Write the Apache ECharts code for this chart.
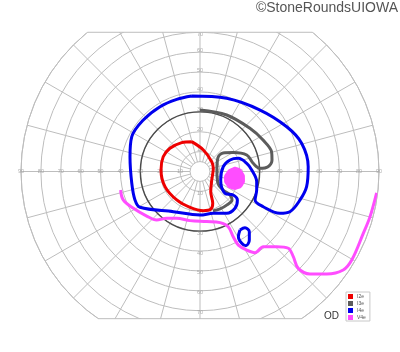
<!DOCTYPE html>
<html><head><meta charset="utf-8">
<script src="https://cdn.jsdelivr.net/npm/echarts@6/dist/echarts.min.js"></script>
<style>html,body{margin:0;padding:0;background:#fff}#c{width:400px;height:352px}</style>
</head><body><div id="c"></div>
<script>
// Isopter points in degrees of visual field: [horizontal, vertical] (right / up positive)
const I2e = [[-4.2,15.0],[1.7,10.8],[5.9,4.9],[6.7,1.6],[5.9,-4.3],[5.4,-10.2],[6.4,-16.0],[5.4,-19.0],[1.7,-19.7],[-5.0,-18.0],[-11.7,-14.3],[-17.6,-7.6],[-19.6,0.8],[-18.5,7.4],[-15.1,11.7],[-9.2,14.5],[-4.2,15.0]];
const I3e = [[0,30.9],[13.4,28.4],[25.1,21.7],[31.7,15.8],[36.0,9.8],[36.2,5.8],[34.2,2.4],[30.2,1.6],[26.6,4.3],[23.5,8.3],[16.6,9.5],[11.6,9.3],[9.0,6.8],[8.5,0.8],[9.0,-5.8],[11.6,-9.3],[15.1,-11.8],[16.1,-14.3],[13.6,-16.8],[10.1,-18.8],[6.5,-19.8]];
const I4e = [[-4.2,38.0],[13.4,36.8],[30.2,30.9],[43.6,22.5],[51.1,14.2],[54.4,2.4],[53.6,-7.6],[50.3,-14.3],[45.2,-20.2],[40.2,-21.0],[31.8,-17.7],[27.7,-14.3],[28.5,-9.3],[28.5,-5.1],[26.0,0.8],[23.5,4.1],[19.3,6.6],[15.1,5.8],[11.7,2.4],[10.4,-4.3],[12.6,-11.0],[16.7,-11.8],[18.8,-14.3],[17.6,-18.5],[13.4,-21.0],[6.7,-21.0],[0,-21.9],[-13.4,-20.2],[-30.2,-18.0],[-32.7,-14.3],[-34.3,-5.9],[-35.2,7.4],[-34.3,17.5],[-28.5,25.9],[-20.1,32.6],[-11.7,36.3],[-4.2,38.0]];
const I4eIsland = [[20.1,-29.4],[22.6,-28.3],[24.8,-30.3],[24.8,-34.4],[23.1,-37.3],[21.0,-36.1],[19.3,-32.8],[20.1,-29.4]];
const V4e = [[-39.9,-9.3],[-38.6,-14.3],[-33.5,-18.5],[-26.8,-22.4],[-21.8,-24.4],[-16.7,-23.5],[-11.7,-23.5],[-5.0,-24.7],[3.4,-25.2],[10.1,-25.7],[14.2,-27.8],[16.7,-32.8],[19.3,-37.0],[23.5,-39.5],[27.7,-40.8],[31.8,-37.8],[38.6,-37.8],[44.4,-38.6],[46.9,-42.8],[49.4,-48.7],[55.3,-51.5],[63.7,-51.5],[72.0,-49.5],[76.3,-44.5],[82.1,-31.1],[85.5,-22.7],[88.8,-10.7]];
const V4eSpot = [[13.1,-0.6],[15.9,1.8],[19.1,2.0],[21.6,-0.3],[22.6,-3.8],[21.6,-7.0],[19.1,-8.8],[15.6,-8.8],[13.1,-6.8],[12.1,-3.8]];

const seriesNames = ['I2e','I3e','I4e','V4e'];
const seriesColors = ['#ee0000','#5c5c5c','#0000ee','#ff4dff'];
const hTicks = [10,20,30,40,50,60,70,80,90];
const vTicks = [10,20,30,40,50,60,70];
const emphRing = 30, centerRing = 5, maxEcc = 90, topClip = 70, bottomClip = 74;

// layout
const CX = 200, CY = 171.5, R = 179;
const GRID = '#bdbdbd';

function toPolar(p){
  const r = Math.hypot(p[0], p[1]);
  let a = Math.atan2(p[1], p[0]) * 180 / Math.PI;
  if (a < 0) a += 360;
  return [r, a];
}
const pol = arr => arr.map(toPolar);

const labelData = [];
hTicks.forEach(t => { labelData.push({value:[t,0], name:String(t)}); labelData.push({value:[t,180], name:String(t)}); });
vTicks.forEach(t => {
  labelData.push({value:[t,90], name:String(t), label:{offset:[0, t===70 ? 2 : -2]}});
  labelData.push({value:[t,270], name:String(t), label:{offset:[0,2]}});
});

const chart = echarts.init(document.getElementById('c'), null, {renderer:'canvas'});
const pxTop = CY - R * topClip / maxEcc;
const pxBot = CY + R * bottomClip / maxEcc;
const halfTop = Math.sqrt(R*R - (CY-pxTop)*(CY-pxTop));
const halfBot = Math.sqrt(R*R - (pxBot-CY)*(pxBot-CY));

function lineSeries(i, data){
  return {type:'line', name:seriesNames[i], coordinateSystem:'polar', polarIndex:0,
    data: pol(data), showSymbol:false, smooth:0.35, z:4, silent:true,
    color: seriesColors[i], itemStyle:{color:seriesColors[i]},
    lineStyle:{color:seriesColors[i], width:3}};
}

const spotPolar = pol(V4eSpot);

chart.setOption({
  animation:false,
  polar:[{center:[CX,CY], radius:R}, {center:[CX,CY], radius:R*emphRing/maxEcc}],
  angleAxis:[
    {polarIndex:0, type:'value', min:0, max:360, interval:15, startAngle:0, clockwise:false,
     axisLine:{show:true, lineStyle:{color:GRID, width:1}}, axisTick:{show:false}, axisLabel:{show:false},
     splitLine:{show:true, lineStyle:{color:GRID, width:1}}},
    {polarIndex:1, type:'value', min:0, max:360, startAngle:0, clockwise:false,
     axisLine:{show:true, lineStyle:{color:'#4a4a4a', width:1.4}}, axisTick:{show:false}, axisLabel:{show:false},
     splitLine:{show:false}}
  ],
  radiusAxis:[
    {polarIndex:0, type:'value', min:0, max:maxEcc, interval:10,
     axisLine:{show:false}, axisTick:{show:false}, axisLabel:{show:false},
     splitLine:{show:true, lineStyle:{color:GRID, width:1}}},
    {polarIndex:1, type:'value', min:0, max:emphRing,
     axisLine:{show:false}, axisTick:{show:false}, axisLabel:{show:false}, splitLine:{show:false}}
  ],
  legend:{
    data: seriesNames, orient:'vertical', left:346, top:292, z:100,
    icon:'rect', itemWidth:5, itemHeight:5, itemGap:2,
    padding:[2,4,1,2], borderColor:'#c8c8c8', borderWidth:1, backgroundColor:'#fff',
    textStyle:{fontSize:5, color:'#555', fontFamily:'Liberation Sans', padding:[0,0,0,-1]},
    selectedMode:false
  },
  series:[
    {type:'scatter', coordinateSystem:'polar', polarIndex:0, symbolSize:0, silent:true, z:3,
     data: labelData,
     label:{show:true, position:'inside', formatter:p=>p.name, fontSize:5.5, color:'#999', fontFamily:'Liberation Sans'}},
    {type:'custom', name:'V4e spot', coordinateSystem:'polar', polarIndex:0, z:4, silent:true,
     data: spotPolar,
     renderItem:function(params, api){
       if (params.dataIndex !== 0) return null;
       const pts = spotPolar.map(p => api.coord(p));
       return {type:'polygon', shape:{points:pts, smooth:0.6}, style:{fill:seriesColors[3]}};
     }},
    lineSeries(0, I2e),
    lineSeries(1, I3e),
    lineSeries(2, I4e),
    Object.assign(lineSeries(2, I4eIsland), {name:'I4e'}),
    lineSeries(3, V4e)
  ],
  graphic:[
    {type:'circle', shape:{cx:CX, cy:CY, r:R*centerRing/maxEcc}, style:{fill:'#fff', stroke:GRID, lineWidth:1}, z:1, silent:true},
    {type:'rect', shape:{x:0, y:0, width:400, height:pxTop}, style:{fill:'#fff'}, z:50, silent:true},
    {type:'rect', shape:{x:0, y:pxBot, width:400, height:352-pxBot}, style:{fill:'#fff'}, z:50, silent:true},
    {type:'line', shape:{x1:CX-halfTop, y1:pxTop, x2:CX+halfTop, y2:pxTop}, style:{stroke:GRID, lineWidth:1}, z:51, silent:true},
    {type:'line', shape:{x1:CX-halfBot, y1:pxBot, x2:CX+halfBot, y2:pxBot}, style:{stroke:GRID, lineWidth:1}, z:51, silent:true},
    {type:'text', right:2, top:1, z:100, silent:true,
     style:{text:'©StoneRoundsUIOWA', fontSize:14, fontFamily:'Liberation Sans', fill:'#555'}},
    {type:'text', left:324, top:311, z:100, silent:true,
     style:{text:'OD', fontSize:10, fontFamily:'Liberation Sans', fill:'#333'}}
  ]
});
</script>
</body></html>
